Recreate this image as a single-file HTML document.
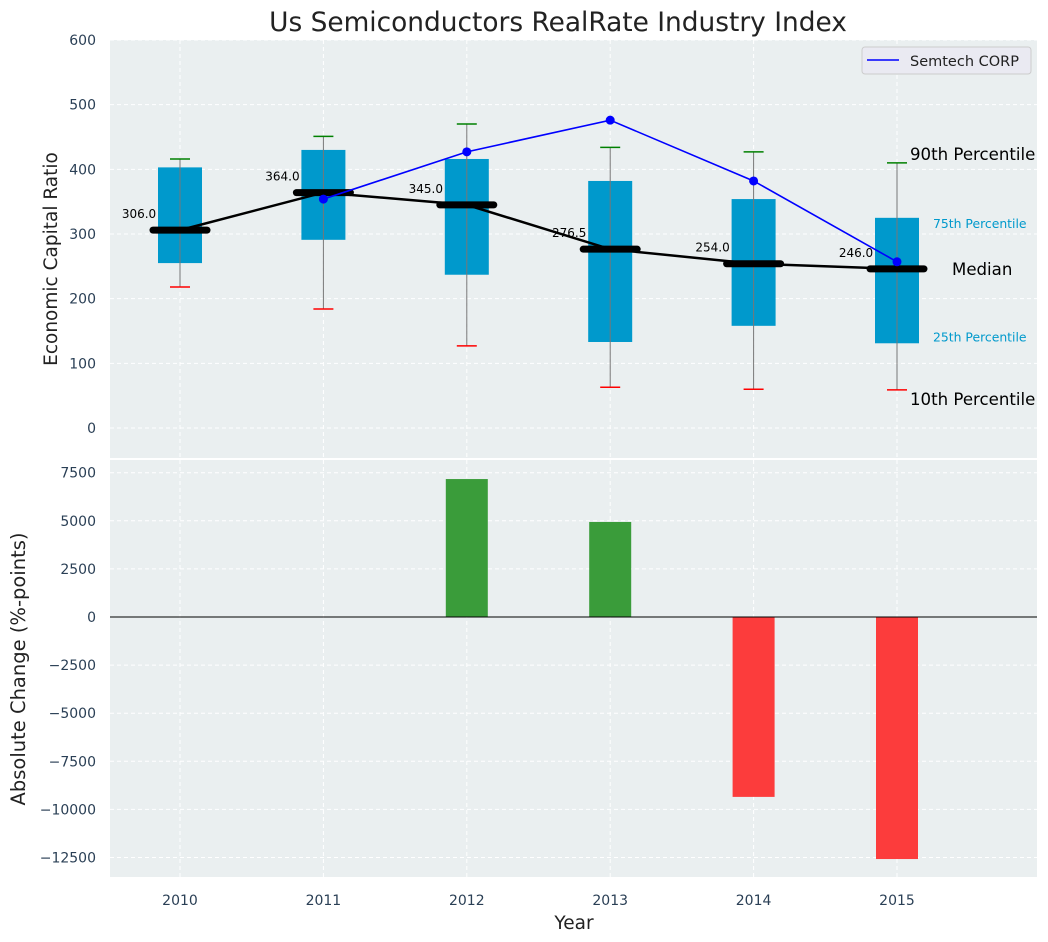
<!DOCTYPE html>
<html><head><meta charset="utf-8"><style>
body{margin:0;background:#fff;}
svg{display:block;font-family:"DejaVu Sans","Liberation Sans",sans-serif;}
</style></head><body>
<svg id="c" width="1048" height="942" xmlns="http://www.w3.org/2000/svg"></svg>
<script>
const years=[2010,2011,2012,2013,2014,2015];
const p10=[218,184,127,63,60,59];
const q1=[255,291,237,133,158,131];
const med=[306,364,345,276.5,254,246];
const q3=[403,430,416,382,354,325];
const p90=[416,451,470,434,427,410];
const semtech=[null,354,427,476,382,257];
const changes=[0,0,7170,4940,-9350,-12580];
const topTicks=[0,100,200,300,400,500,600];
const botTicks=[-12500,-10000,-7500,-5000,-2500,0,2500,5000,7500];

const svg=document.getElementById('c');
const NS='http://www.w3.org/2000/svg';
function el(t,a,p){const e=document.createElementNS(NS,t);for(const k in a)e.setAttribute(k,a[k]);(p||svg).appendChild(e);return e;}
const L=110,R=1037;
const x=i=>180+i*143.4;
const yT=v=>428-v*0.6467;
const yB=v=>617-v*(48.1/2500);

let e=el('rect',{x:L,y:40,width:R-L,height:418,fill:'#eaeff0'});

e=el('rect',{x:L,y:460,width:R-L,height:417,fill:'#eaeff0'});


e=el('text',{x:558,y:31,'text-anchor':'middle','font-size':26.4,fill:'#222'});e.textContent='Us Semiconductors RealRate Industry Index';


topTicks.forEach(t=>{
 el('line',{x1:L,x2:R,y1:yT(t),y2:yT(t),stroke:'#fff','stroke-dasharray':'4,3','stroke-width':1});
 e=el('text',{x:96,y:yT(t)+5,'text-anchor':'end','font-size':14,fill:'#2a3f55'});e.textContent=t;
 
});
botTicks.forEach(t=>{
 el('line',{x1:L,x2:R,y1:yB(t),y2:yB(t),stroke:'#fff','stroke-dasharray':'4,3','stroke-width':1});
 e=el('text',{x:96,y:yB(t)+5,'text-anchor':'end','font-size':14,fill:'#2a3f55'});e.textContent=(t<0?'\u2212'+(-t):t);
 
});
years.forEach((yr,i)=>{
 el('line',{x1:x(i),x2:x(i),y1:40,y2:458,stroke:'#fff','stroke-dasharray':'4,3'});
 el('line',{x1:x(i),x2:x(i),y1:460,y2:877,stroke:'#fff','stroke-dasharray':'4,3'});
 e=el('text',{x:x(i),y:905,'text-anchor':'middle','font-size':14,fill:'#2a3f55'});e.textContent=yr;
 
});

years.forEach((yr,i)=>{
 const cx=x(i);
 e=el('rect',{x:cx-22,y:yT(q3[i]),width:44,height:yT(q1[i])-yT(q3[i]),fill:'#0099cc'});
 
 el('line',{x1:cx,x2:cx,y1:yT(p90[i]),y2:yT(p10[i]),stroke:'#777','stroke-width':1});
 el('line',{x1:cx-10,x2:cx+10,y1:yT(p90[i]),y2:yT(p90[i]),stroke:'green','stroke-width':1.5});
 el('line',{x1:cx-10,x2:cx+10,y1:yT(p10[i]),y2:yT(p10[i]),stroke:'red','stroke-width':1.5});
});
el('polyline',{points:med.map((m,i)=>x(i)+','+yT(m)).join(' '),fill:'none',stroke:'#000','stroke-width':2.5});
med.forEach((m,i)=>{
 e=el('line',{x1:x(i)-27,x2:x(i)+27,y1:yT(m),y2:yT(m),stroke:'#000','stroke-width':7,'stroke-linecap':'round'});
 
 el('text',{x:x(i)-41,y:yT(m)-12,'text-anchor':'middle','font-size':12,fill:'#000'}).textContent=m.toFixed(1);
});
const pts=[];semtech.forEach((v,i)=>{if(v!=null)pts.push(x(i)+','+yT(v));});
e=el('polyline',{points:pts.join(' '),fill:'none',stroke:'blue','stroke-width':1.6});

semtech.forEach((v,i)=>{if(v!=null){el('circle',{cx:x(i),cy:yT(v),r:4.5,fill:'blue'});}});

const lx=x(5);
el('text',{x:lx+13,y:yT(p90[5])-3,'font-size':16.6,fill:'#000'}).textContent='90th Percentile';
el('text',{x:lx+36,y:yT(q3[5])+10,'font-size':12.4,fill:'#0099cc'}).textContent='75th Percentile';
el('text',{x:lx+55,y:yT(med[5])+6,'font-size':16.6,fill:'#000'}).textContent='Median';
el('text',{x:lx+36,y:yT(q1[5])-2,'font-size':12.4,fill:'#0099cc'}).textContent='25th Percentile';
el('text',{x:lx+13,y:yT(p10[5])+15,'font-size':16.6,fill:'#000'}).textContent='10th Percentile';

e=el('rect',{x:862,y:47,width:169,height:27,rx:3,fill:'#eaeaf2',stroke:'#ccc'});

el('line',{x1:867,x2:899,y1:60,y2:60,stroke:'blue','stroke-width':1.6});
el('text',{x:910,y:66,'font-size':14.5,fill:'#222'}).textContent='Semtech CORP';

changes.forEach((v,i)=>{
 if(v===0)return;
 const y0=yB(0),y1=yB(v);
 e=el('rect',{x:x(i)-21,y:Math.min(y0,y1),width:42,height:Math.abs(y1-y0),fill:v>0?'#3a9c3a':'#fc3c3c'});
 
});
el('line',{x1:L,x2:R,y1:yB(0),y2:yB(0),stroke:'#000','stroke-width':1});

el('text',{x:57,y:259,'text-anchor':'middle','font-size':18.5,fill:'#222',transform:'rotate(-90 57 259)'}).textContent='Economic Capital Ratio';
el('text',{x:25,y:669,'text-anchor':'middle','font-size':19.5,fill:'#222',transform:'rotate(-90 25 669)'}).textContent='Absolute Change (%-points)';
el('text',{x:574,y:929,'text-anchor':'middle','font-size':18.5,fill:'#222'}).textContent='Year';
</script>
</body></html>
